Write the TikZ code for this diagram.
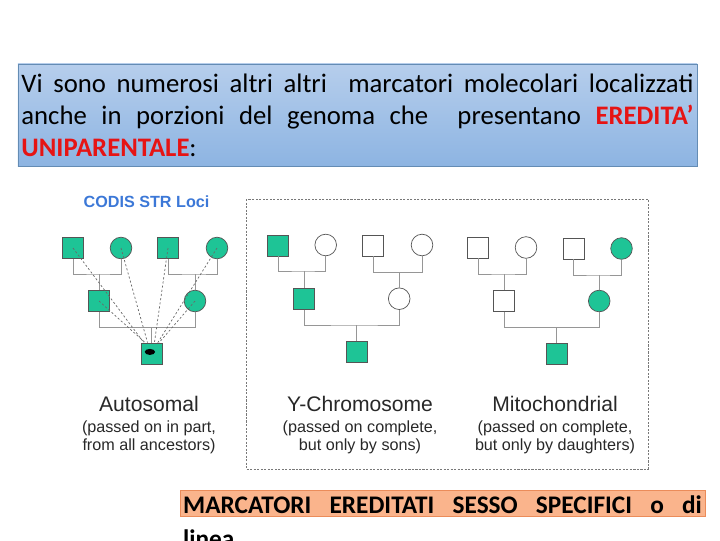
\documentclass[tikz,border=0pt]{standalone}
\usepackage{fontspec}
\setmainfont{Carlito}
\newfontfamily\arialfont{Liberation Sans}
\usetikzlibrary{positioning}

\definecolor{pedgreen}{RGB}{30,196,150}
\definecolor{pedline}{RGB}{150,150,150}
\definecolor{pededge}{RGB}{85,85,85}
\definecolor{boxtop}{RGB}{182,206,236}
\definecolor{boxbottom}{RGB}{141,180,226}
\definecolor{boxedge}{RGB}{100,140,180}
\definecolor{markfill}{RGB}{250,180,140}
\definecolor{markedge}{RGB}{235,140,90}
\definecolor{codisblue}{RGB}{60,120,215}
\definecolor{redtext}{RGB}{230,20,20}
\definecolor{labelgray}{RGB}{40,40,40}

\tikzset{
  male/.style={draw=pededge, line width=0.5pt, minimum size=0.525cm, inner sep=0pt, fill=white},
  female/.style={male, circle, minimum size=0.54cm},
  affected/.style={fill=pedgreen},
  pedlink/.style={draw=pedline, line width=0.7pt},
  ancestry/.style={draw=pedline!70!black, line width=0.5pt, dash pattern=on 1.5pt off 1.5pt},
  framebox/.style={draw=pedline!80!black, line width=0.5pt, dash pattern=on 1.5pt off 1pt},
  pedtitle/.style={font=\arialfont\fontsize{15}{17}\selectfont, text=labelgray, inner sep=0pt, anchor=base},
  pedsub/.style={font=\arialfont\fontsize{11.5}{13}\selectfont, text=labelgray, inner sep=0pt, align=center},
}

\begin{document}
\begin{tikzpicture}[x=0.025cm, y=-0.025cm]
\useasboundingbox (0,0) rectangle (720,540);

% intro text
\node[draw=boxedge, top color=boxtop, bottom color=boxbottom,
      minimum width=16.975cm, minimum height=2.55cm,
      text width=16.8cm, inner xsep=0.08cm, align=justify,
      font=\fontsize{19}{22.7}\selectfont] (intro) at (357.5,115)
  {Vi sono numerosi altri altri\ \ marcatori molecolari localizzati\linebreak
   anche in porzioni del genoma che\ \ presentano \textcolor{redtext}{\textbf{EREDITA’}}\linebreak
   \textcolor{redtext}{\textbf{UNIPARENTALE}}:};

\node[font=\arialfont\bfseries\fontsize{11.5}{13}\selectfont, text=codisblue] (codis) at (146.5,202) {CODIS STR Loci};

% autosomal
\node[male,affected] (auA) at (73,248) {};
\node[female,affected] (auB) at (121,248) {};
\node[male,affected] (auC) at (168,248) {};
\node[female,affected] (auD) at (217,248) {};
\node[male,affected] (auE) at (99,301) {};
\node[female,affected] (auF) at (195,301) {};
\node[male,affected] (auG) at (151.5,353.5) {};
\coordinate (auAB) at (99,274);
\coordinate (auCD) at (195,274);
\coordinate (auEF) at (151.5,327.5);
\draw[pedlink] (auA.south) |- (auAB) -| (auB.south);
\draw[pedlink] (auC.south) |- (auCD) -| (auD.south);
\draw[pedlink] (auAB) -- (auE.north);
\draw[pedlink] (auCD) -- (auF.north);
\draw[pedlink] (auE.south) |- (auEF) -| (auF.south);
\draw[pedlink] (auEF) -- (auG.north);
\foreach \n/\a in {auA/125, auB/110, auC/75, auD/60, auE/120, auF/55}
  \draw[ancestry] (\n.center) -- (auG.\a);
\fill ([xshift=-0.04cm,yshift=0.04cm]auG.center) ellipse [x radius=0.13cm, y radius=0.075cm];

\draw[framebox] (246,199) rectangle (648,469);

% Y-chromosome
\node[male,affected] (yA) at (278,245.5) {};
\node[female] (yB) at (325.7,245) {};
\node[male] (yC) at (373.3,245.5) {};
\node[female] (yD) at (422,245) {};
\node[male,affected] (yE) at (304.3,299) {};
\node[female] (yF) at (399.2,298.7) {};
\node[male,affected] (yG) at (356.8,351.7) {};
\coordinate (yAB) at (304.3,271);
\coordinate (yCD) at (399.2,272.3);
\coordinate (yEF) at (356.8,325);
\draw[pedlink] (yA.south) |- (yAB) -| (yB.south);
\draw[pedlink] (yC.south) |- (yCD) -| (yD.south);
\draw[pedlink] (yAB) -- (yE.north);
\draw[pedlink] (yCD) -- (yF.north);
\draw[pedlink] (yE.south) |- (yEF) -| (yF.south);
\draw[pedlink] (yEF) -- (yG.north);

% mitochondrial
\node[male] (mA) at (478,247.5) {};
\node[female] (mB) at (526,247.5) {};
\node[male] (mC) at (573.5,248.5) {};
\node[female,affected] (mD) at (621.5,248.5) {};
\node[male] (mE) at (504,300.8) {};
\node[female,affected] (mF) at (599.2,301) {};
\node[male,affected] (mG) at (556.8,354) {};
\coordinate (mAB) at (504,274);
\coordinate (mCD) at (599.2,275);
\coordinate (mEF) at (556.8,327.7);
\draw[pedlink] (mA.south) |- (mAB) -| (mB.south);
\draw[pedlink] (mC.south) |- (mCD) -| (mD.south);
\draw[pedlink] (mAB) -- (mE.north);
\draw[pedlink] (mCD) -- (mF.north);
\draw[pedlink] (mE.south) |- (mEF) -| (mF.south);
\draw[pedlink] (mEF) -- (mG.north);

% labels
\node[pedtitle] (autoT) at (149,411) {Autosomal};
\node[pedsub, below=0.22cm of autoT] (autoS) {(passed on in part,\\from all ancestors)};
\node[pedtitle] (yT) at (360,411) {Y-Chromosome};
\node[pedsub, below=0.22cm of yT] (yS) {(passed on complete,\\but only by sons)};
\node[pedtitle] (mT) at (555,411) {Mitochondrial};
\node[pedsub, below=0.22cm of mT] (mS) {(passed on complete,\\but only by daughters)};

% closing marker text
\node[draw=markedge, fill=markfill, minimum width=13.125cm, minimum height=0.65cm] (mark) at (442.5,503) {};
\node[anchor=north west, text width=12.965cm, inner xsep=0.08cm, inner ysep=0.15cm, align=justify,
      font=\bfseries\fontsize{18}{24}\selectfont] (marktext) at (mark.north west)
  {MARCATORI EREDITATI SESSO SPECIFICI o di\linebreak linea};
\end{tikzpicture}
\end{document}
